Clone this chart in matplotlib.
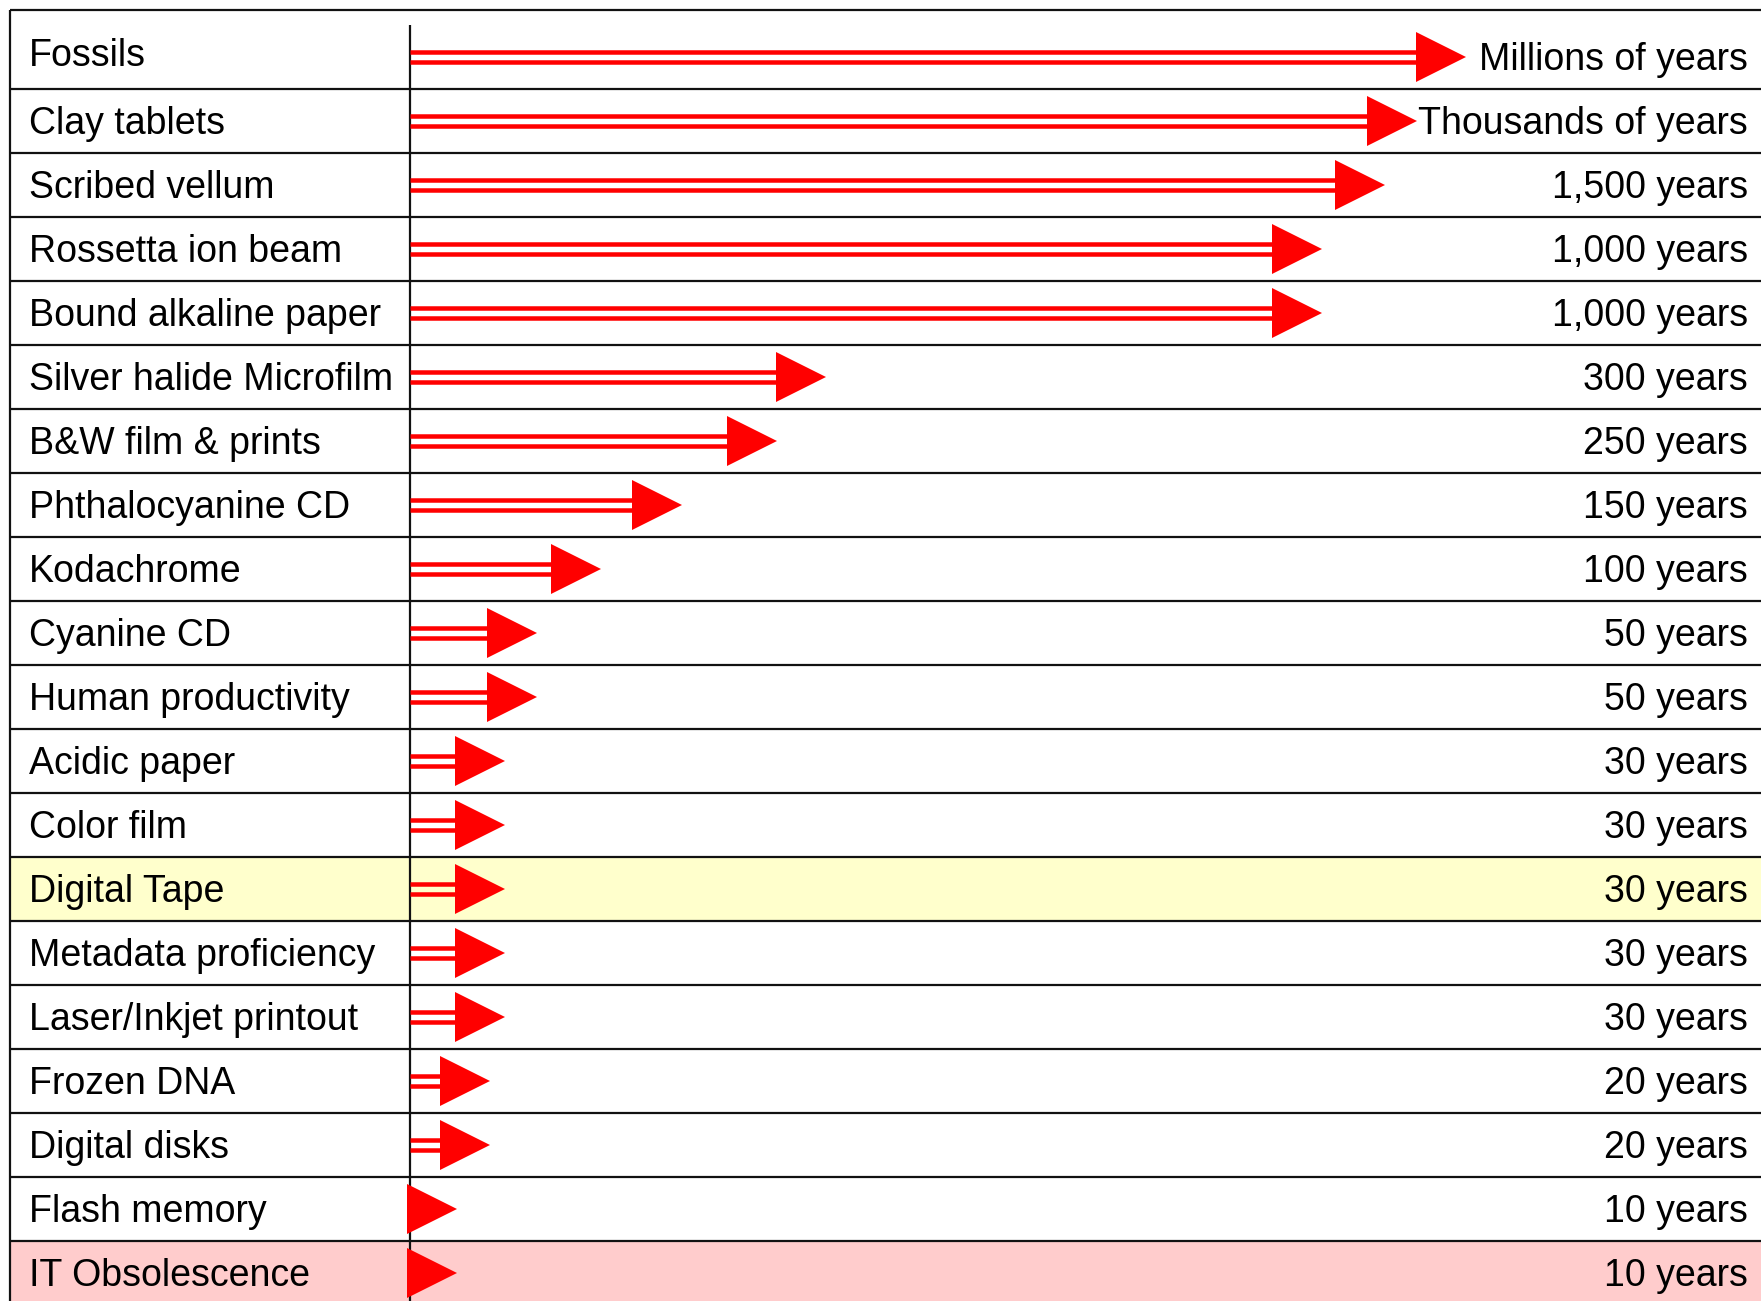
import matplotlib
matplotlib.use("Agg")
import matplotlib.pyplot as plt
from matplotlib.patches import Polygon, Rectangle

# ---------------- data ----------------
media = ["Fossils", "Clay tablets", "Scribed vellum", "Rossetta ion beam",
         "Bound alkaline paper", "Silver halide Microfilm", "B&W film & prints",
         "Phthalocyanine CD", "Kodachrome", "Cyanine CD", "Human productivity",
         "Acidic paper", "Color film", "Digital Tape", "Metadata proficiency",
         "Laser/Inkjet printout", "Frozen DNA", "Digital disks", "Flash memory",
         "IT Obsolescence"]
lifespan_labels = ["Millions of years", "Thousands of years", "1,500 years",
                   "1,000 years", "1,000 years", "300 years", "250 years",
                   "150 years", "100 years", "50 years", "50 years", "30 years",
                   "30 years", "30 years", "30 years", "30 years", "20 years",
                   "20 years", "10 years", "10 years"]
# arrow length (tip position measured from the divider, drawing units)
arrow_length = [1056, 1007, 975, 912, 912, 416, 367, 272, 191, 127, 127,
                95, 95, 95, 95, 95, 80, 80, 47, 47]
highlight = {13: "#FFFFCC", 19: "#FFCCCC"}

# ---------------- layout ----------------
W, H = 1761, 1301
DPI = 100
ROW_PX = 64.0
TOP_PX = 25.0
DIV_PX = 410.0

fig = plt.figure(figsize=(W / DPI, H / DPI), dpi=DPI)
ax = fig.add_axes([0, 0, 1, 1])
ax.set_xlim(-DIV_PX, W - DIV_PX)
ax.set_ylim((H - TOP_PX) / ROW_PX, -TOP_PX / ROW_PX)
ax.axis("off")

n = len(media)
left_x = 10 - DIV_PX
right_x = W - DIV_PX
top_border = (9.5 - TOP_PX) / ROW_PX
bottom = (H - TOP_PX) / ROW_PX

font = "Liberation Sans"
fs = 27
line_kw = dict(color="#111111", lw=1.6, solid_capstyle="butt")

# highlighted rows
for i, c in highlight.items():
    ax.add_patch(Rectangle((left_x, i), right_x - left_x, 1, facecolor=c,
                           edgecolor="none", zorder=0))

# grid lines
ax.plot([left_x, right_x], [top_border, top_border], **line_kw)
ax.plot([left_x, left_x], [top_border, bottom], **line_kw)
ax.plot([0, 0], [0, bottom], **line_kw)
for i in range(1, n):
    ax.plot([left_x, right_x], [i, i], **line_kw)

head_len = 50.0
head_half = 25.0 / ROW_PX
shaft_off = 4.8 / ROW_PX
shaft_lw = 4.5 * 72 / DPI
base_off = 13.0 / ROW_PX

for i, (name, lab, L) in enumerate(zip(media, lifespan_labels, arrow_length)):
    yc = i + 0.5
    base = L - head_len
    if base > 0:
        for s in (-shaft_off, shaft_off):
            ax.plot([0, base], [yc + s, yc + s], color="#FF0000", lw=shaft_lw,
                    solid_capstyle="butt", zorder=3)
    ax.add_patch(Polygon([(base, yc - head_half), (L, yc), (base, yc + head_half)],
                         closed=True, facecolor="#FF0000", edgecolor="none",
                         zorder=4))
    dy = base_off - (4.0 / ROW_PX if i == 0 else 0.0)
    ax.text(-381, yc + dy, name, fontsize=fs, family=font,
            ha="left", va="baseline", color="black", zorder=5)
    ax.text(1748 - DIV_PX, yc + base_off, lab, fontsize=fs, family=font,
            ha="right", va="baseline", color="black", zorder=5)

fig.savefig("out.png", dpi=DPI, facecolor="white")
